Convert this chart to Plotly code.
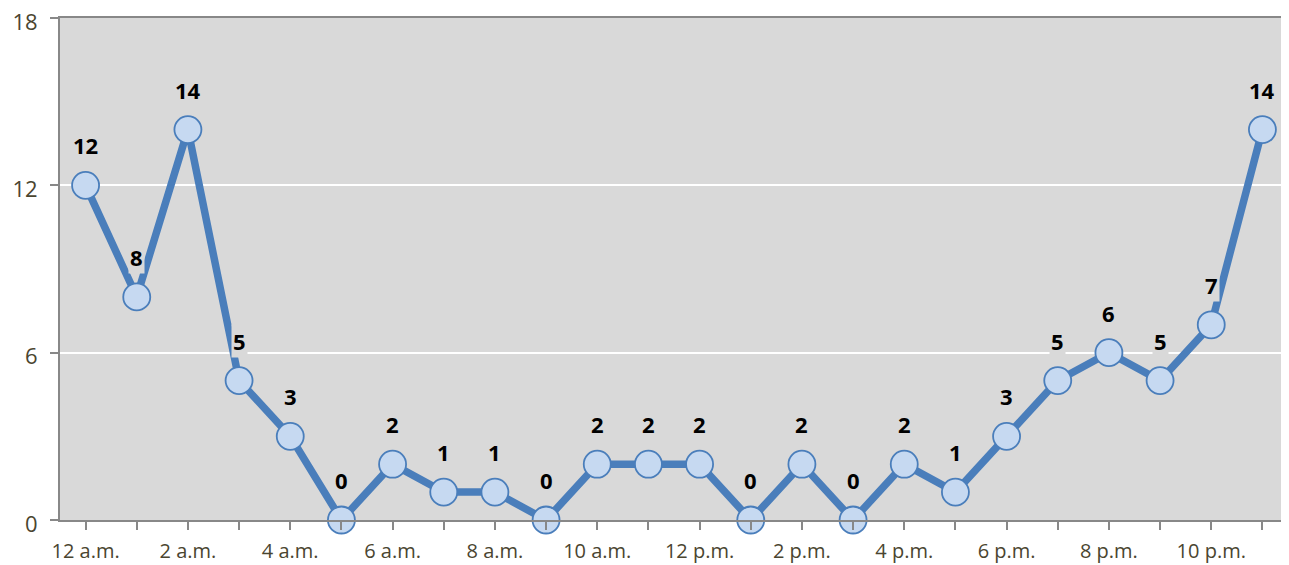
import plotly.graph_objects as go

hours = ["12 a.m.", "1 a.m.", "2 a.m.", "3 a.m.", "4 a.m.", "5 a.m.", "6 a.m.", "7 a.m.",
         "8 a.m.", "9 a.m.", "10 a.m.", "11 a.m.", "12 p.m.", "1 p.m.", "2 p.m.", "3 p.m.",
         "4 p.m.", "5 p.m.", "6 p.m.", "7 p.m.", "8 p.m.", "9 p.m.", "10 p.m.", "11 p.m."]
counts = [12, 8, 14, 5, 3, 0, 2, 1, 1, 0, 2, 2, 2, 0, 2, 0, 2, 1, 3, 5, 6, 5, 7, 14]
y_ticks = [0, 6, 12, 18]

xs = list(range(len(hours)))
tick_text = [h if i % 2 == 0 else "" for i, h in enumerate(hours)]

fig = go.Figure()
fig.add_trace(go.Scatter(
    x=xs, y=counts, mode="lines+markers",
    line=dict(color="#4a7ebb", width=7.5),
    marker=dict(size=27, color="#c6d9f1", line=dict(color="#4a7ebb", width=1.8)),
    hoverinfo="skip", showlegend=False, cliponaxis=False,
))

for x, v in zip(xs, counts):
    fig.add_annotation(x=x, y=v, text=f"<b>{v}</b>", showarrow=False, yshift=40,
                       font=dict(family="Open Sans, Arial", size=22, color="#000000"),
                       bgcolor="#d9d9d9", borderpad=1)

# page has an 8px body margin, so the figure is sized/positioned to compensate
fig.update_layout(
    width=1281, height=557,
    margin=dict(l=52, r=1, t=10, b=45),
    paper_bgcolor="white", plot_bgcolor="#d9d9d9",
    font=dict(family="Open Sans, Arial", color="#4a4530"),
)
fig.update_xaxes(
    range=[-0.5, 23.5], tickmode="array", tickvals=xs, ticktext=tick_text,
    showgrid=False, zeroline=False, showline=True, linecolor="#888888", linewidth=2,
    mirror=True, ticks="outside", ticklen=8, tickwidth=2, tickcolor="#888888",
    tickfont=dict(size=20, color="#4a4530"), ticklabelstandoff=4, automargin=False,
    ticklabeloverflow="allow",
)
fig.update_yaxes(
    range=[0, 18], tickmode="array", tickvals=y_ticks,
    showgrid=True, gridcolor="white", gridwidth=2, zeroline=False,
    showline=True, linecolor="#888888", linewidth=2, mirror=True,
    ticks="outside", ticklen=8, tickwidth=2, tickcolor="#888888",
    tickfont=dict(size=22, color="#4a4530"), ticklabelstandoff=8, automargin=False,
    ticklabeloverflow="allow", ticklabelshift=4,
)

fig.write_html("out.html")
